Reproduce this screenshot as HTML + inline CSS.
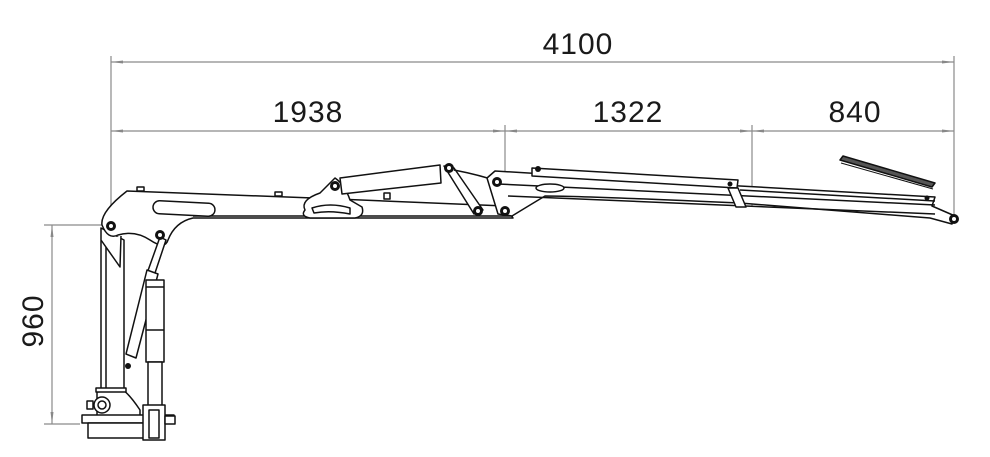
<!DOCTYPE html>
<html><head><meta charset="utf-8"><style>
html,body{margin:0;padding:0;background:#fff;}
svg{display:block}
text{font-family:"Liberation Sans",sans-serif;fill:#1a1a1a}
</style></head><body>
<svg width="990" height="457" viewBox="0 0 990 457" xmlns="http://www.w3.org/2000/svg">
<defs>
<marker id="a" markerWidth="12" markerHeight="6" refX="12" refY="3" orient="auto-start-reverse" markerUnits="userSpaceOnUse"><path d="M12,3 L0,1.5 L0,4.5 Z" fill="#888"/></marker>
</defs>
<!-- dimensions -->
<g stroke="#8a8a8a" stroke-width="1.2" fill="none">
<line x1="111" y1="56" x2="111" y2="228"/>
<line x1="954" y1="56" x2="954" y2="216"/>
<line x1="505" y1="125" x2="505" y2="190"/>
<line x1="752" y1="125" x2="752" y2="206"/>
<line x1="111" y1="62" x2="954" y2="62" marker-start="url(#a)" marker-end="url(#a)"/>
<line x1="111" y1="131" x2="505" y2="131" marker-start="url(#a)" marker-end="url(#a)"/>
<line x1="505" y1="131" x2="752" y2="131" marker-start="url(#a)" marker-end="url(#a)"/>
<line x1="752" y1="131" x2="954" y2="131" marker-start="url(#a)" marker-end="url(#a)"/>
<line x1="44" y1="225" x2="104" y2="225"/>
<line x1="44" y1="424" x2="80" y2="424"/>
<line x1="52" y1="225" x2="52" y2="424" marker-start="url(#a)" marker-end="url(#a)"/>
</g>
<g font-size="30" text-anchor="middle" letter-spacing="1">
<text x="578" y="54">4100</text>
<text x="308" y="122">1938</text>
<text x="628" y="122">1322</text>
<text x="855" y="122">840</text>
<text x="0" y="0" transform="translate(43,321) rotate(-90)">960</text>
</g>
<!-- crane -->
<g stroke="#111" stroke-width="1.5" fill="#fff" stroke-linejoin="round">
<!-- column -->
<path d="M101,228 L101,392 L124,392 L124,240 Z"/>
<line x1="106" y1="240" x2="106" y2="390"/>
<path d="M101,240 L120,267 L121,236"/>
<!-- main boom -->
<path d="M127,191 L313,198 L505,206 L513,218 L193,218 Q175,222 168,240 Q165,250 150,240 Q135,230 118,235 Q108,240 102,225 Q100,212 127,191 Z"/>
<line x1="193" y1="216" x2="513" y2="216"/>
<rect x="153" y="202" width="62" height="13" rx="6.5" transform="rotate(3 184 208)"/>
<rect x="137" y="187" width="7" height="4"/>
<rect x="275" y="192" width="7" height="4"/>
<rect x="384" y="193" width="6" height="6"/>
<!-- bracket -->
<path d="M305,210 Q300,200 320,193 L335,178 Q345,185 350,200 L362,207 Q365,216 355,218 L310,218 Q300,216 305,210 Z"/>
<path d="M312,208 Q330,202 350,208 L350,214 Q330,210 314,213 Z"/>
<!-- lift cylinder top -->
<path d="M340,178 L440,165 L441,183 L342,194 Z"/>
<!-- links -->
<path d="M444,166 L454,168 L483,210 L474,214 Z"/>
<path d="M454,170 Q480,175 500,182"/>
<path d="M492,180 L502,178 L510,210 L500,214 Z"/>
<!-- column cylinder -->
<path d="M160,237 L166,240 L152,282 L145,279 Z"/>
<path d="M147,270 L158,274 L136,358 L126,354 Z"/>
<rect x="146" y="280" width="18" height="82"/>
<line x1="146" y1="287" x2="164" y2="287"/>
<line x1="146" y1="330" x2="164" y2="330"/>
<rect x="148" y="362" width="14" height="52"/>
<!-- base -->
<path d="M97,392 L123,390 Q130,395 140,410 L140,416 L97,416 Z"/>
<rect x="96" y="388" width="30" height="4"/>
<circle cx="102" cy="405" r="8"/><circle cx="102" cy="405" r="4"/>
<rect x="87" y="401" width="6" height="8"/>
<rect x="82" y="415" width="92" height="8"/>
<rect x="88" y="423" width="72" height="15"/>
<rect x="143" y="405" width="22" height="35"/>
<rect x="149" y="410" width="10" height="28"/>
<rect x="165" y="416" width="10" height="8"/>
<!-- boom 2 -->
<path d="M487,178 L495,171 L740,186 L935,197 L932,206 L955,216 L952,224 L930,218 L740,203 Q580,196 545,196 Q530,205 512,216 L498,214 Z"/>
<line x1="498" y1="184" x2="935" y2="205"/>
<line x1="508" y1="196" x2="935" y2="214"/>
<line x1="740" y1="190" x2="935" y2="201"/>
<path d="M532,168 L738,180 L737,188 L532,176 Z"/>
<path d="M728,188 L738,188 L746,207 L736,207 Z"/>
<ellipse cx="550" cy="188" rx="14" ry="4"/>
<path d="M840,160 L843,156 L935,183 L932,187 Z" fill="#555"/>
<line x1="841" y1="163" x2="933" y2="189" stroke-width="1"/>
</g>
<!-- pins -->
<g fill="#111">
<circle cx="111" cy="226" r="5"/><circle cx="160" cy="235" r="5"/><circle cx="128" cy="366" r="3"/>
<circle cx="335" cy="186" r="5"/><circle cx="449" cy="168" r="5"/><circle cx="478" cy="211" r="5"/>
<circle cx="497" cy="182" r="5"/><circle cx="505" cy="211" r="5"/><circle cx="954" cy="219" r="5"/>
<circle cx="538" cy="169" r="3"/><circle cx="730" cy="184" r="2.5"/><circle cx="927" cy="198" r="2.5"/>
</g>
<g fill="#fff"><circle cx="111" cy="226" r="2"/><circle cx="160" cy="235" r="2"/><circle cx="335" cy="186" r="2"/><circle cx="449" cy="168" r="2"/><circle cx="478" cy="211" r="2"/><circle cx="497" cy="182" r="2"/><circle cx="505" cy="211" r="2"/><circle cx="954" cy="219" r="2"/></g>
</svg>
</body></html>
